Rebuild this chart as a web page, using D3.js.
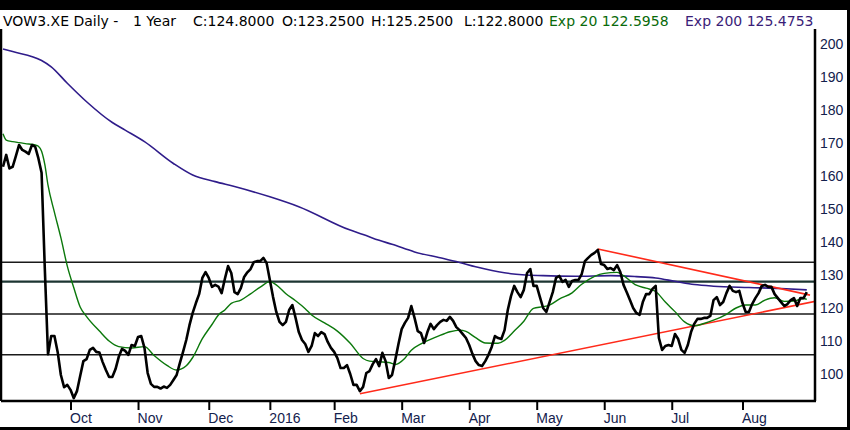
<!DOCTYPE html>
<html>
<head>
<meta charset="utf-8">
<script src="https://cdn.jsdelivr.net/npm/d3@7"></script>
<style>
  html, body { margin: 0; padding: 0; background: #000; }
  svg { display: block; font-family: "DejaVu Sans", sans-serif; }
</style>
</head>
<body>
<svg id="chart" width="850" height="430"></svg>
<script>
// daily closes, one per trading day (day 0 = early Sep 2015)
var closes = [
  162.8,166.4,162.3,162.8,166.0,169.4,167.9,167.4,166.7,169.4,
  168.9,165.4,161.0,132.0,106.0,111.5,111.5,106.7,99.7,96.0,
  96.7,95.2,92.7,94.8,99.4,103.9,104.5,107.3,107.9,106.7,
  106.5,103.6,101.2,99.1,99.1,101.5,105.2,107.6,107.0,105.8,
  108.8,108.5,111.2,111.5,107.9,100.3,97.0,96.1,96.1,95.6,
  96.2,95.8,96.7,98.2,99.7,103.3,106.7,110.3,114.8,118.5,
  121.5,124.2,129.1,130.9,129.1,126.4,127.0,126.5,124.5,128.8,
  132.7,130.6,124.8,124.2,126.1,129.4,130.8,131.8,133.9,134.2,
  134.2,135.2,133.6,128.5,123.3,118.8,115.8,114.8,115.8,119.4,
  120.9,117.0,112.7,110.3,109.1,106.7,108.5,112.4,111.5,112.7,
  112.1,109.7,107.9,106.7,104.8,101.8,101.8,102.7,100.0,96.7,
  96.7,94.8,96.1,100.3,100.9,103.0,104.5,102.4,106.4,103.9,
  98.8,99.7,104.2,109.1,113.6,115.5,117.0,120.6,117.0,113.0,
  112.4,109.4,112.7,115.2,113.6,114.8,115.8,116.4,116.1,117.3,
  116.1,114.2,113.3,112.1,110.9,108.8,106.1,103.9,102.7,102.4,
  103.9,105.8,108.2,111.5,110.9,110.6,113.3,119.4,123.6,126.7,
  124.8,123.3,125.5,130.6,131.8,126.7,126.7,123.3,120.0,118.8,
  121.8,124.8,129.1,129.7,127.9,128.5,126.4,128.2,128.5,128.5,
  130.3,134.2,135.2,136.1,136.7,137.6,133.3,133.0,131.8,132.1,
  131.5,133.0,130.9,127.0,124.8,122.4,120.0,118.5,117.9,121.8,
  124.2,124.2,125.8,126.7,110.9,107.3,108.5,108.8,108.5,112.1,
  110.6,107.3,106.4,108.8,112.7,115.2,116.7,116.7,117.0,117.0,
  117.6,122.4,123.3,120.9,121.8,124.5,126.7,125.2,124.8,125.2,
  121.5,118.8,118.8,121.2,123.0,124.5,126.7,127.0,126.4,126.4,
  124.2,123.0,121.8,120.6,121.2,122.4,123.0,120.6,123.0,123.0,
  124.8
];

// Exp 20
var ema20Days = [0,1,3,5,8,10,11,12,13,14,16,18,20,22,24,26,30,33,36,40,44,47,51,54,57,59,62,65,67,69,71,74,77,80,83,85,88,91,94,96,100,104,108,112,114,117,120,122,125,127,130,135,139,142,144,147,150,154,156,159,162,165,168,170,173,177,180,184,187,191,193,197,200,203,206,209,212,215,218,221,225,228,231,234,237,240,243,246,249,250];
var ema20Vals = [172.8,170.9,170.4,170.1,169.7,169.4,169.0,167.5,163.5,157.2,149.0,141.3,132.7,126.2,120.3,117.4,113.0,110.0,108.3,107.9,108.3,105.6,102.6,101.2,102.5,105.0,110.7,115.0,117.9,119.4,121.4,122.4,124.3,126.3,128.0,127.0,124.3,122.2,119.8,117.9,115.5,113.0,109.3,104.7,103.9,103.7,103.5,102.9,104.8,107.2,109.1,111.3,112.8,113.3,112.9,111.0,109.4,109.3,110.2,113.0,116.0,119.9,120.4,120.9,122.7,124.6,127.2,129.6,130.5,130.8,129.8,126.9,126.0,125.0,121.8,118.9,115.8,114.6,115.3,116.3,118.1,120.0,120.9,120.9,122.4,123.1,122.0,122.1,122.9,122.6];

// Exp 200
var ema200Days = [0,3,12,15,20,26,34,38,44,53,59,66,72,83,92,108,112,117,121,128,137,142,147,150,158,168,178,189,197,203,209,215,221,232,242,250];
var ema200Vals = [198.5,197.7,195.0,193.1,188.1,182.5,176.2,173.9,170.4,163.8,160.3,158.3,156.8,153.7,150.7,143.6,142.3,140.5,139.3,137.0,135.0,133.8,132.5,131.8,130.4,129.8,129.6,129.8,129.5,129.1,128.1,127.1,126.6,126.2,125.9,125.5];

// horizontal support / resistance levels
var levels = [133.9, 128.0, 118.2, 105.8];

// red trend lines
var trendLowDays = [111, 254];
var trendLowVals = [94.0, 122.3];
var trendHighDays = [185, 251];
var trendHighVals = [137.9, 123.9];

var monthLabels = ["Oct", "Nov", "Dec", "2016", "Feb", "Mar", "Apr", "May", "Jun", "Jul", "Aug"];
var monthDays = [21, 42, 64, 83, 103, 124, 145, 166, 187, 208, 230];
var yTicks = [100, 110, 120, 130, 140, 150, 160, 170, 180, 190, 200];

var W = 850, H = 430;
var plotL = 1, plotR = 815, plotT = 29, plotB = 401;

var svg = d3.select("#chart");

var x = d3.scaleLinear().domain([0, 251]).range([3, 810]);
var y = d3.scaleLinear().domain([100, 200]).range([374, 44]);

// frame
svg.append("rect").attr("width", W).attr("height", H).attr("fill", "#000");
svg.append("rect").attr("x", 0).attr("y", 10).attr("width", 847).attr("height", 417).attr("fill", "#fff");

svg.append("defs").append("clipPath").attr("id", "plot")
  .append("rect").attr("x", plotL).attr("y", plotT)
  .attr("width", plotR - plotL).attr("height", plotB - plotT);

var g = svg.append("g").attr("clip-path", "url(#plot)");

// levels
g.selectAll("line.level").data(levels).enter().append("line")
  .attr("class", "level")
  .attr("x1", plotL).attr("x2", plotR)
  .attr("y1", function (d) { return y(d); })
  .attr("y2", function (d) { return y(d); })
  .attr("stroke", function (d, i) { return i === 1 ? "#1c3532" : "#1a1a1a"; })
  .attr("stroke-width", function (d, i) { return i === 1 ? 2.2 : 1.5; });

function pairs(days, vals) {
  return days.map(function (d, i) { return [d, vals[i]]; });
}

var smooth = d3.line().x(function (d) { return x(d[0]); }).y(function (d) { return y(d[1]); }).curve(d3.curveMonotoneX);
var straight = d3.line().x(function (d) { return x(d[0]); }).y(function (d) { return y(d[1]); });

g.append("path").datum(pairs(ema200Days, ema200Vals))
  .attr("d", smooth).attr("fill", "none")
  .attr("stroke", "#2f1c8a").attr("stroke-width", 1.6);

g.append("path").datum(pairs(trendLowDays, trendLowVals))
  .attr("d", straight).attr("fill", "none")
  .attr("stroke", "#ff2a1a").attr("stroke-width", 1.6);

g.append("path").datum(pairs(trendHighDays, trendHighVals))
  .attr("d", straight).attr("fill", "none")
  .attr("stroke", "#ff2a1a").attr("stroke-width", 1.6);

g.append("path").datum(pairs(ema20Days, ema20Vals))
  .attr("d", smooth).attr("fill", "none")
  .attr("stroke", "#0b780b").attr("stroke-width", 1.4);

g.append("path").datum(closes.map(function (c, i) { return [i, c]; }))
  .attr("d", straight).attr("fill", "none")
  .attr("stroke", "#000").attr("stroke-width", 2.6)
  .attr("stroke-linejoin", "round");

// axes
var xAxis = d3.axisBottom(x).tickValues(monthDays)
  .tickFormat(function (d, i) { return monthLabels[i]; })
  .tickSize(9).tickPadding(6);

var gx = svg.append("g").attr("transform", "translate(0," + plotB + ")").call(xAxis);
gx.select(".domain").remove();
gx.selectAll(".tick line").attr("stroke", "#000").attr("stroke-width", 2);
gx.selectAll(".tick text")
  .attr("text-anchor", "start").attr("x", -1).attr("y", 12).attr("dy", "0.71em")
  .attr("fill", "#13214d").style("font-size", "14px");

var yAxis = d3.axisRight(y).tickValues(yTicks).tickSize(0).tickPadding(5);
var gy = svg.append("g").attr("transform", "translate(" + plotR + ",0)").call(yAxis);
gy.select(".domain").remove();
gy.selectAll(".tick text").attr("fill", "#13214d").style("font-size", "14px");

svg.append("line").attr("x1", plotL).attr("x2", plotR + 1).attr("y1", plotB).attr("y2", plotB)
  .attr("stroke", "#000").attr("stroke-width", 2.5);
svg.append("line").attr("x1", plotR).attr("x2", plotR).attr("y1", plotT).attr("y2", plotB)
  .attr("stroke", "#000").attr("stroke-width", 2.5);
svg.append("line").attr("x1", plotL).attr("x2", plotL).attr("y1", plotT).attr("y2", plotB)
  .attr("stroke", "#000").attr("stroke-width", 2.5);

// title
var title = svg.append("text").attr("y", 26).style("font-size", "14px");
var parts = [
  { t: "VOW3.XE Daily -", x: 3, c: "#000" },
  { t: "1 Year", x: 133, c: "#000" },
  { t: "C:124.8000", x: 193, c: "#000" },
  { t: "O:123.2500", x: 282, c: "#000" },
  { t: "H:125.2500", x: 371, c: "#000" },
  { t: "L:122.8000", x: 464, c: "#000" },
  { t: "Exp 20 122.5958", x: 549, c: "#0a6a0a" },
  { t: "Exp 200 125.4753", x: 685, c: "#3a1d78" }
];
title.selectAll("tspan").data(parts).enter().append("tspan")
  .attr("x", function (d) { return d.x; })
  .attr("fill", function (d) { return d.c; })
  .text(function (d) { return d.t; });
</script>
</body>
</html>
